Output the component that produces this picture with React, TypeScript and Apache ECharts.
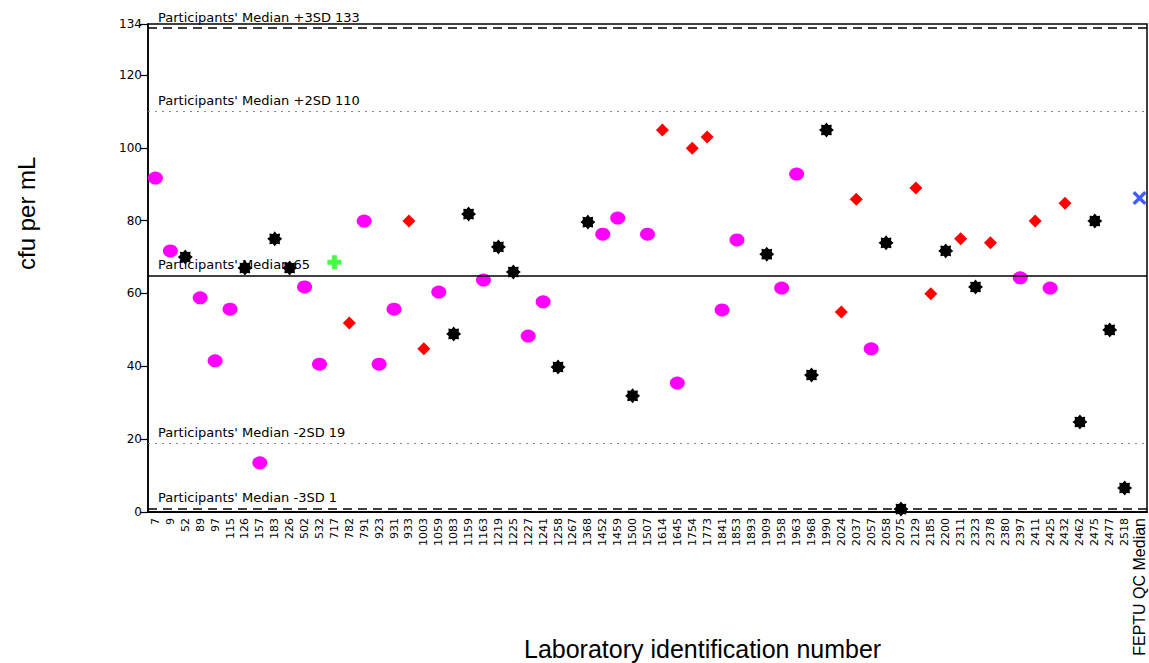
import React, { useEffect, useRef } from "react";
import * as echarts from "echarts";

// Laboratory identification numbers (x categories)
const labs = [
  "7", "9", "52", "89", "97", "115", "126", "157", "183", "226",
  "502", "532", "717", "782", "791", "923", "931", "933", "1003", "1059",
  "1083", "1159", "1163", "1219", "1225", "1227", "1241", "1258", "1267", "1368",
  "1452", "1459", "1500", "1507", "1614", "1645", "1754", "1773", "1841", "1853",
  "1893", "1909", "1958", "1963", "1968", "1990", "2024", "2037", "2057", "2058",
  "2075", "2129", "2185", "2200", "2311", "2323", "2378", "2380", "2397", "2411",
  "2425", "2432", "2462", "2475", "2477", "2518", "FEPTU QC Median",
];

// Results in cfu per mL (null = no result reported)
const results = [
  91.7, 71.7, 70.0, 58.8, 41.5, 55.7, 67.0, 13.5, 75.0, 67.0,
  61.8, 40.6, 68.6, 51.9, 79.9, 40.6, 55.7, 79.9, 44.8, 60.4,
  48.9, 81.8, 63.7, 72.8, 65.9, 48.3, 57.7, 39.8, null, 79.6,
  76.3, 80.7, 31.9, 76.3, 104.9, 35.4, 99.9, 103.0, 55.5, 74.7,
  null, 70.8, 61.5, 92.8, 37.6, 104.9, 54.9, 85.9, 44.8, 73.9,
  0.8, 89.0, 59.9, 71.7, 75.0, 61.8, 73.9, null, 64.3, 79.9,
  61.5, 84.8, 24.7, 79.9, 50.0, 6.6, 86.2,
];

// Marker group per laboratory: M = magenta circle, B = black star, R = red diamond, G = green cross, X = QC median
const groups = [
  "M", "M", "B", "M", "M", "M", "B", "M", "B", "B",
  "M", "M", "G", "R", "M", "M", "M", "R", "R", "M",
  "B", "B", "M", "B", "B", "M", "M", "B", "-", "B",
  "M", "M", "B", "M", "R", "M", "R", "R", "M", "M",
  "-", "B", "M", "M", "B", "B", "R", "R", "M", "B",
  "B", "R", "R", "B", "R", "B", "R", "-", "M", "R",
  "M", "R", "B", "B", "B", "B", "X",
];

const yTicks = [0, 20, 40, 60, 80, 100, 120, 134];

const refValues = [133, 110, 65, 19, 1];
const refLabels = [
  "Participants' Median +3SD 133",
  "Participants' Median +2SD 110",
  "Participants' Median 65",
  "Participants' Median -2SD 19",
  "Participants' Median -3SD 1",
];
const refKinds = ["dashed", "dotted", "solid", "dotted", "dashed"];

function starPath(points: number, inner: number): string {
  let d = "path://";
  for (let i = 0; i < points * 2; i++) {
    const r = i % 2 === 0 ? 10 : 10 * inner;
    const a = (Math.PI * i) / points - Math.PI / 2;
    const px = (10 + r * Math.cos(a)).toFixed(2);
    const py = (10 + r * Math.sin(a)).toFixed(2);
    d += (i === 0 ? "M" : "L") + px + "," + py;
  }
  return d + "Z";
}

const STAR = starPath(8, 0.72);
const PLUS = "path://M3.2,0H6.8V3.2H10V6.8H6.8V10H3.2V6.8H0V3.2H3.2Z";
const XMARK =
  "path://M0,1.7L1.7,0L5,3.3L8.3,0L10,1.7L6.7,5L10,8.3L8.3,10L5,6.7L1.7,10L0,8.3L3.3,5Z";

const FONT = "'DejaVu Sans', sans-serif";
const ARIAL = "'Liberation Sans', Arial, sans-serif";

export default function App() {
  const ref = useRef<HTMLDivElement>(null);

  useEffect(() => {
    if (!ref.current) return;
    const chart = echarts.init(ref.current, undefined, { renderer: "svg" });

    const pick = (g: string) =>
      labs
        .map((_, i) => (groups[i] === g && results[i] != null ? [i, results[i]] : null))
        .filter((p) => p !== null);

    const lineStyleFor = (k: string) =>
      k === "solid"
        ? { type: "solid", color: "#000", width: 1.6 }
        : k === "dashed"
        ? { type: [9, 6], color: "#000", width: 1.6 }
        : { type: [2, 5], color: "#888", width: 1.2 };

    const option: any = {
      animation: false,
      backgroundColor: "#fff",
      grid: {
        left: 148,
        right: 2,
        top: 24,
        bottom: 151,
        show: true,
        borderColor: "#000",
        borderWidth: 1.5,
        backgroundColor: "transparent",
      },
      xAxis: {
        type: "category",
        data: labs,
        boundaryGap: true,
        axisLine: { show: true, lineStyle: { color: "#000", width: 2 } },
        axisTick: { show: false },
        splitLine: { show: false },
        axisLabel: {
          interval: 0,
          rotate: 90,
          margin: 6,
          color: "#000",
          fontFamily: FONT,
          fontSize: 11,
          formatter: (v: string) => (v.indexOf("FEPTU") === 0 ? "{big|" + v + "}" : v),
          rich: {
            big: { fontFamily: ARIAL, fontSize: 16, color: "#000" },
          },
        },
      },
      yAxis: {
        type: "value",
        min: 0,
        max: 134,
        axisLine: { show: true, lineStyle: { color: "#000", width: 1.5 } },
        axisTick: {
          show: true,
          length: 8,
          lineStyle: { color: "#000", width: 1.2 },
          customValues: yTicks,
        },
        axisLabel: {
          color: "#000",
          fontFamily: FONT,
          fontSize: 12,
          margin: 6,
          customValues: yTicks,
        },
        splitLine: { show: false },
      },
      graphic: [
        {
          type: "text",
          left: 524,
          top: 636,
          style: {
            text: "Laboratory identification number",
            fontFamily: ARIAL,
            fontSize: 25,
            fill: "#000",
          },
        },
        {
          type: "text",
          x: 14,
          y: 270,
          rotation: Math.PI / 2,
          style: {
            text: "cfu per mL",
            fontFamily: ARIAL,
            fontSize: 24,
            fill: "#000",
          },
        },
      ],
      series: [
        {
          type: "scatter",
          name: "lines",
          data: [],
          silent: true,
          z: 1,
          markLine: {
            silent: true,
            symbol: ["none", "none"],
            animation: false,
            data: refValues.map((v, i) => ({
              yAxis: v,
              lineStyle: lineStyleFor(refKinds[i]),
              label: {
                show: true,
                position: "insideStartTop",
                distance: [10, 4],
                formatter: refLabels[i],
                color: "#000",
                fontFamily: FONT,
                fontSize: 13,
              },
            })),
          },
        },
        {
          type: "scatter",
          name: "M",
          data: pick("M"),
          symbol: "circle",
          symbolSize: [15, 13],
          itemStyle: { color: "#ff00ff", opacity: 1 },
          z: 3,
        },
        {
          type: "scatter",
          name: "B",
          data: pick("B"),
          symbol: STAR,
          symbolSize: 15,
          itemStyle: { color: "#000", opacity: 1 },
          z: 3,
        },
        {
          type: "scatter",
          name: "R",
          data: pick("R"),
          symbol: "diamond",
          symbolSize: [13, 13],
          itemStyle: { color: "#ff0000", opacity: 1 },
          z: 3,
        },
        {
          type: "scatter",
          name: "G",
          data: pick("G"),
          symbol: PLUS,
          symbolSize: 14,
          itemStyle: { color: "#44ff44", opacity: 1 },
          z: 3,
        },
        {
          type: "scatter",
          name: "X",
          data: pick("X"),
          symbol: XMARK,
          symbolSize: 14,
          itemStyle: { color: "#3f5cff", opacity: 1 },
          z: 3,
        },
      ],
    };

    chart.setOption(option);
    return () => chart.dispose();
  }, []);

  return (
    <div
      ref={ref}
      style={{ position: "fixed", left: 0, top: 0, width: 1149, height: 663, background: "#fff" }}
    />
  );
}
